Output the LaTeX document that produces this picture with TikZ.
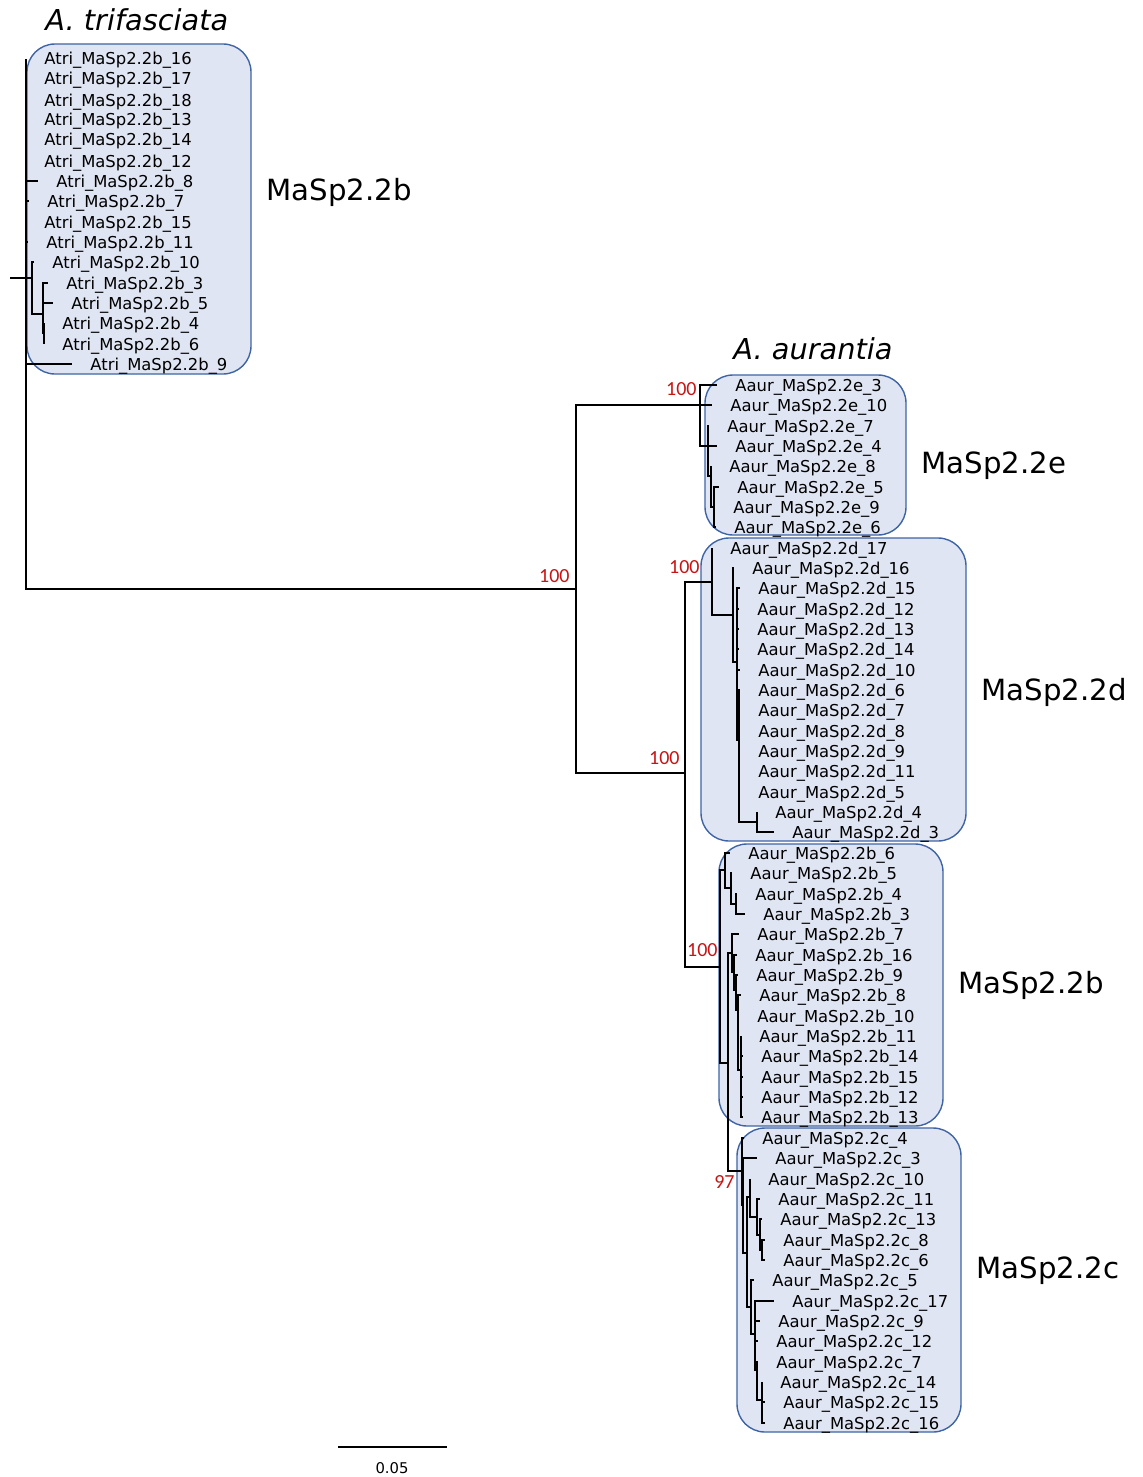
\documentclass[tikz,border=0pt]{standalone}
\usepackage{fontspec}
\setmainfont{DejaVu Sans}
\newfontfamily\bootfont{Carlito}
\usetikzlibrary{positioning}
\definecolor{boxfill}{RGB}{223,229,242}
\definecolor{boxline}{RGB}{62,100,165}
\definecolor{bootred}{RGB}{200,20,20}
\begin{document}
\begin{tikzpicture}[x=0.5pt, y=-0.5pt,
  branch/.style={line width=1.25pt},
  cladebox/.style={draw=boxline, fill=boxfill, line width=0.7pt, rounded corners=14pt},
  leaf/.style={font=\fontsize{8.2}{10}\selectfont, inner sep=0pt, text height=6pt, text depth=0pt, anchor=west},
  clade/.style={font=\fontsize{14.6}{17}\selectfont, inner sep=0pt, text height=10.6pt, text depth=0pt, anchor=west},
  species/.style={font=\fontsize{14.4}{17}\selectfont\itshape, inner sep=0pt, text height=10.5pt, text depth=0pt, anchor=west},
  boot/.style={font=\bootfont\fontsize{10}{12}\selectfont, text=bootred, inner sep=0pt}]
  \useasboundingbox (0,0) rectangle (1143,1477);
  \def\gap{9pt}
  \draw[cladebox] (27,44) rectangle (251,374);
  \draw[cladebox] (705,375) rectangle (906,535);
  \draw[cladebox] (701,538) rectangle (966,841);
  \draw[cladebox] (719,844) rectangle (943,1126);
  \draw[cladebox] (737,1128) rectangle (961,1432);
  % inner nodes
  \coordinate (root) at (10,278);
  \coordinate (n0) at (26,278);
  \coordinate (t1) at (32,278);
  \coordinate (t2) at (43,314);
  \coordinate (t3) at (44,333);
  \coordinate (nA) at (576,589);
  \coordinate (nE) at (700,405);
  \coordinate (nE1) at (708,446);
  \coordinate (nE2) at (711,476);
  \coordinate (nE3) at (714,507);
  \coordinate (nB) at (685,773);
  \coordinate (nD) at (712,582);
  \coordinate (nD1) at (733,615);
  \coordinate (nD2) at (737,662);
  \coordinate (nD3) at (739,740);
  \coordinate (nD4) at (757,822);
  \coordinate (nC) at (720,967);
  \coordinate (nBt) at (725,870);
  \coordinate (nBt2) at (731,888);
  \coordinate (nBt3) at (736,904);
  \coordinate (nX) at (728,1063);
  \coordinate (nBb) at (732,953);
  \coordinate (nBb2) at (734,972);
  \coordinate (nBb3) at (736,990);
  \coordinate (nBb4) at (738,1010);
  \coordinate (nBb5) at (741,1070);
  \coordinate (nCc) at (742,1171);
  \coordinate (nCc2) at (743,1205);
  \coordinate (nCc3) at (747,1253);
  \coordinate (nCc4) at (750,1197);
  \coordinate (nCc5) at (751,1307);
  \coordinate (nCc6) at (757,1217);
  \coordinate (nCc7) at (760,1235);
  \coordinate (nCc8) at (762,1250);
  \coordinate (nCc9) at (755,1334);
  \coordinate (nCc10) at (757,1370);
  \coordinate (nCc11) at (762,1400);
  % leaves
  \foreach \k/\px/\py in {16/26/59, 17/26/79, 18/26/100, 13/26/120, 14/26/140, 12/26/161, 8/38/181, 7/29/201,
      15/26/222, 11/28/242, 10/34/262, 3/48/283, 5/53/303, 4/44/323, 6/44/344, 9/72/364} {
    \coordinate (tri\k) at (\px,\py);
    \node[leaf, right=\gap of tri\k] (ltri\k) {Atri\_MaSp2.2b\_\k};
  }
  \foreach \k/\px/\py in {3/717/385, 10/712/405, 7/709/426, 4/717/446, 8/711/466, 5/719/487, 9/715/507, 6/716/527} {
    \coordinate (e\k) at (\px,\py);
    \node[leaf, right=\gap of e\k] (le\k) {Aaur\_MaSp2.2e\_\k};
  }
  \foreach \k/\px/\py in {17/712/548, 16/734/568, 15/740/588, 12/739/609, 13/739/629, 14/739/649, 10/740/670,
      6/740/690, 7/740/710, 8/740/731, 9/740/751, 11/740/771, 5/740/792, 4/757/812, 3/774/832} {
    \coordinate (d\k) at (\px,\py);
    \node[leaf, right=\gap of d\k] (ld\k) {Aaur\_MaSp2.2d\_\k};
  }
  \foreach \k/\px/\py in {6/730/853, 5/732/873, 4/737/894, 3/745/914, 7/739/934, 16/737/955, 9/738/975,
      8/741/995, 10/739/1016, 11/741/1036, 14/743/1056, 15/743/1077, 12/743/1097, 13/743/1117} {
    \coordinate (b\k) at (\px,\py);
    \node[leaf, right=\gap of b\k] (lb\k) {Aaur\_MaSp2.2b\_\k};
  }
  \foreach \k/\px/\py in {4/744/1138, 3/757/1158, 10/750/1179, 11/760/1199, 13/762/1219, 8/765/1240, 6/765/1260,
      5/754/1280, 17/774/1301, 9/760/1321, 12/758/1341, 7/758/1362, 14/762/1382, 15/765/1402, 16/765/1423} {
    \coordinate (c\k) at (\px,\py);
    \node[leaf, right=\gap of c\k] (lc\k) {Aaur\_MaSp2.2c\_\k};
  }
  % branches
  \draw[branch] (root) -- (n0);
  \foreach \p/\c in {n0/tri16, n0/tri17, n0/tri18, n0/tri13, n0/tri14, n0/tri12, n0/tri8, n0/tri7, n0/tri15,
      n0/tri11, n0/t1, n0/tri9, n0/nA, t1/tri10, t1/t2, t2/tri3, t2/tri5, t2/t3, t3/tri4, t3/tri6,
      nA/nE, nA/nB, nE/e3, nE/e10, nE/nE1, nE1/e7, nE1/e4, nE1/nE2, nE2/e8, nE2/nE3, nE3/e5, nE3/e9, nE3/e6,
      nB/nD, nB/nC, nD/d17, nD/nD1, nD1/d16, nD1/nD2, nD2/d15, nD2/d12, nD2/d13, nD2/d14, nD2/d10, nD2/nD3,
      nD3/d6, nD3/d7, nD3/d8, nD3/d9, nD3/d11, nD3/d5, nD3/nD4, nD4/d4, nD4/d3,
      nC/nBt, nC/nX, nBt/b6, nBt/nBt2, nBt2/b5, nBt2/nBt3, nBt3/b4, nBt3/b3,
      nX/nBb, nX/nCc, nBb/b7, nBb/nBb2, nBb2/b16, nBb2/nBb3, nBb3/b9, nBb3/nBb4, nBb4/b8, nBb4/b10, nBb4/nBb5,
      nBb5/b11, nBb5/b14, nBb5/b15, nBb5/b12, nBb5/b13,
      nCc/c4, nCc/nCc2, nCc2/c3, nCc2/nCc3, nCc3/nCc4, nCc3/nCc5, nCc4/c10, nCc4/nCc6, nCc6/c11, nCc6/nCc7,
      nCc7/c13, nCc7/nCc8, nCc8/c8, nCc8/c6, nCc5/c5, nCc5/nCc9, nCc9/c17, nCc9/c9, nCc9/c12, nCc9/nCc10,
      nCc10/c7, nCc10/nCc11, nCc11/c14, nCc11/c15, nCc11/c16}
    \draw[branch] (\p) |- (\c);
  % support values
  \node[boot, above left=3pt and 3pt of nA] (bA) {100};
  \node[boot, above left=4.5pt and 1.5pt of nE] (bE) {100};
  \node[boot, above left=4pt and 6pt of nD] (bD) {100};
  \node[boot, above left=4pt and 2.5pt of nB] (bB) {100};
  \node[boot, above left=5pt and 1pt of nC] (bC) {100};
  \node[boot, below left=2pt and 3.5pt of nCc] (bCc) {97};
  % clade names
  \node[species] (atri) at (45,20) {A. trifasciata};
  \node[species] (aaur) at (733,349) {A. aurantia};
  \node[clade] (k2btri) at (266,190) {MaSp2.2b};
  \node[clade] (k2e) at (921,463) {MaSp2.2e};
  \node[clade] (k2d) at (981,690) {MaSp2.2d};
  \node[clade] (k2b) at (958,983) {MaSp2.2b};
  \node[clade] (k2c) at (976,1268) {MaSp2.2c};
  % scale
  \coordinate (sc0) at (338,1447);
  \coordinate (sc1) at (447,1447);
  \draw[line width=1.25pt] (sc0) -- (sc1);
  \node[font=\fontsize{7.4}{9}\selectfont, inner sep=0pt] (scl) at (392,1468) {0.05};
\end{tikzpicture}
\end{document}
